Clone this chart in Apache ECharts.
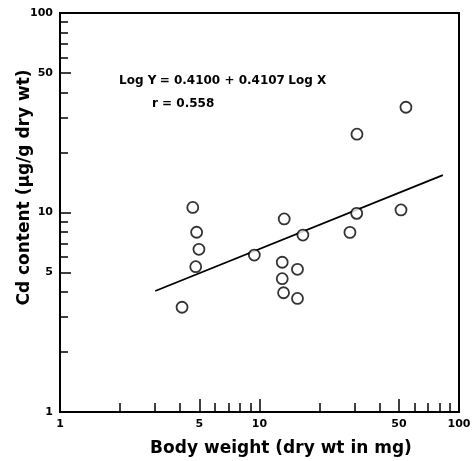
<!DOCTYPE html>
<html>
<head>
<meta charset="utf-8">
<script src="https://cdn.jsdelivr.net/npm/echarts@6.0.0/dist/echarts.min.js"></script>
<style>
html,body{margin:0;padding:0;background:#fff}
#main{width:472px;height:461px}
</style>
</head>
<body>
<div id="main"></div>
<script>
// body weight (dry wt in mg) against Cd content (ug/g dry wt), one circle per sample
var bodyWeight = [4.63, 4.84, 4.97, 4.79, 4.09, 9.42, 13.3, 16.5, 13.0, 15.5, 13.0, 13.2, 15.5, 28.4, 30.7, 30.8, 51.2, 54.2];
var cdContent  = [10.6, 7.96, 6.54, 5.35, 3.35, 6.12, 9.28, 7.71, 5.63, 5.19, 4.66, 3.96, 3.71, 7.95, 9.9, 24.7, 10.3, 33.7];
// regression line ends
var fitX = [3, 83];
var fitY = [4.04, 15.4];
// axis ticks
var tickLabels = [1, 5, 10, 50, 100];
var majorTicks = [5, 10, 50, 100];
var minorTicks = [2, 3, 4, 6, 7, 8, 9, 20, 30, 40, 60, 70, 80, 90];

var font = 'DejaVu Sans';

window.onload = function () {
	var myChart = echarts.init(document.getElementById('main'));

	function mainAxis(pos, len) {
		return {
			type: 'log', logBase: 10, min: 1, max: 100, position: pos,
			axisLine: {lineStyle: {color: '#000', width: 2}},
			axisTick: {inside: true, length: len, customValues: majorTicks, lineStyle: {color: '#000', width: 1.5}},
			axisLabel: {customValues: tickLabels, color: '#000', fontFamily: font, fontWeight: 'bold', fontSize: 11, margin: 7},
			splitLine: {show: false},
			minorTick: {show: false}
		};
	}
	function minorAxis(pos, len) {
		return {
			type: 'log', logBase: 10, min: 1, max: 100, position: pos,
			axisLine: {show: false},
			axisTick: {inside: true, length: len, customValues: minorTicks, lineStyle: {color: '#000', width: 1.5}},
			axisLabel: {show: false},
			splitLine: {show: false}
		};
	}

	var xMain = mainAxis('bottom', 13);
	xMain.name = 'Body weight (dry wt in mg)';
	xMain.nameLocation = 'middle';
	xMain.nameGap = 28;
	xMain.nameTextStyle = {color: '#000', fontFamily: font, fontWeight: 'bold', fontSize: 17, padding: [0, 0, 0, 43]};

	var yMain = mainAxis('left', 11);
	yMain.name = 'Cd content (μg/g dry wt)';
	yMain.nameLocation = 'middle';
	yMain.nameGap = 27;
	yMain.nameMoveOverlap = false;
	yMain.nameTextStyle = {color: '#000', fontFamily: font, fontWeight: 'bold', fontSize: 17, padding: [0, 0, 0, 50]};

	var points = bodyWeight.map(function (x, i) { return [x, cdContent[i]]; });
	var fit = fitX.map(function (x, i) { return [x, fitY[i]]; });

	var option = {
		animation: false,
		grid: {left: 60, right: 13, top: 13, bottom: 49, show: true, borderColor: '#000', borderWidth: 2, outerBoundsMode: 'none', containLabel: false},
		xAxis: [xMain, minorAxis('bottom', 9)],
		yAxis: [yMain, minorAxis('left', 8)],
		graphic: [{
			type: 'text', left: 119, top: 75,
			style: {
				text: '{b|Log Y} {n|= 0.4100 + 0.4107} {b|Log X}\n{s|}{n|r = 0.558}',
				rich: {
					b: {fontFamily: font, fontWeight: 'bold', fontSize: 12, fill: '#000', lineHeight: 23},
					n: {fontFamily: font, fontWeight: 'bold', fontSize: 12, fill: '#000', lineHeight: 23},
					s: {width: 33}
				}
			}
		}],
		series: [{
			type: 'line',
			data: fit,
			symbol: 'none',
			lineStyle: {color: '#000', width: 1.8},
			z: 2
		}, {
			type: 'scatter',
			data: points,
			symbol: 'circle',
			symbolSize: 11,
			itemStyle: {color: '#fff', borderColor: '#000', borderWidth: 1.8},
			z: 3
		}]
	};
	myChart.setOption(option);
};
</script>
</body>
</html>
